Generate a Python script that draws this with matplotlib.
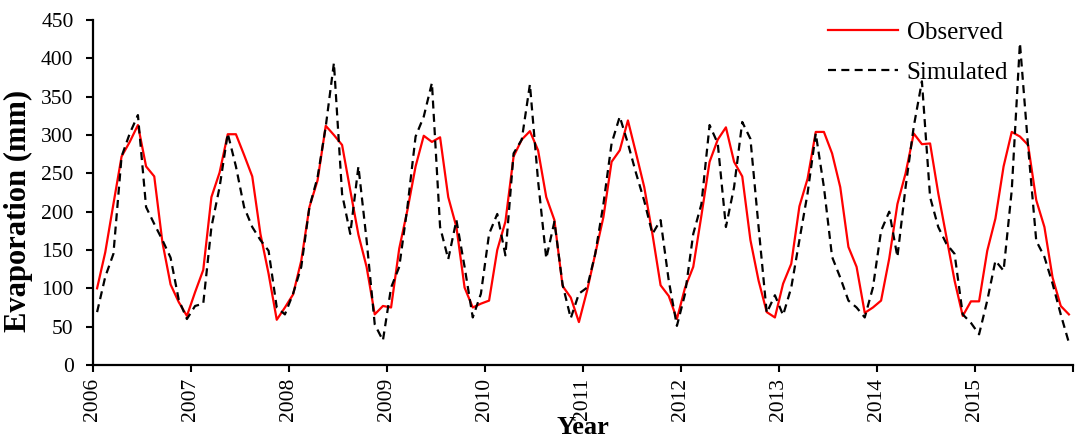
import numpy as np
import matplotlib
matplotlib.use('Agg')
import matplotlib.pyplot as plt

plt.rcParams['font.family'] = ['Liberation Serif', 'DejaVu Serif']

# monthly evaporation (mm), Jan 2006 - Dec 2015
observed = [
    100, 147, 210, 272, 291, 313, 259, 246, 160, 105, 82, 64,
    95, 124, 219, 251, 301, 301, 274, 246, 171, 119, 59, 75,
    92, 136, 206, 241, 312, 300, 287, 228, 170, 128, 66, 77,
    75, 152, 202, 259, 299, 291, 297, 219, 180, 101, 75, 80,
    84, 150, 187, 272, 294, 305, 280, 219, 189, 103, 88, 56,
    97, 145, 193, 265, 280, 319, 276, 232, 171, 104, 90, 60,
    101, 128, 195, 265, 294, 310, 265, 246, 163, 110, 69, 62,
    106, 132, 207, 243, 304, 304, 276, 232, 154, 128, 68, 75,
    84, 139, 210, 250, 302, 288, 289, 224, 167, 110, 64, 83,
    83, 149, 191, 259, 304, 298, 287, 215, 180, 114, 77, 66,
]
simulated = [
    69, 115, 145, 272, 302, 326, 206, 184, 163, 140, 85, 60,
    77, 80, 180, 232, 302, 259, 206, 180, 163, 149, 75, 66,
    93, 128, 206, 245, 311, 394, 223, 171, 259, 163, 53, 32,
    101, 128, 206, 298, 324, 368, 180, 138, 189, 128, 62, 93,
    171, 197, 143, 276, 294, 366, 240, 139, 187, 105, 61, 93,
    101, 145, 210, 289, 324, 289, 250, 214, 171, 189, 110, 51,
    93, 171, 210, 313, 289, 180, 232, 317, 295, 180, 68, 91,
    65, 101, 163, 224, 302, 232, 141, 114, 84, 75, 62, 101,
    175, 200, 141, 232, 311, 370, 219, 180, 158, 145, 66, 55,
    40, 84, 136, 123, 228, 420, 285, 162, 141, 106, 66, 29,
]
years = list(range(2006, 2017))
year_labels = [str(y) for y in years[:-1]] + ['']

t = 2006 + (np.arange(len(observed)) + 0.5) / 12

fig = plt.figure(figsize=(10.81, 4.40), dpi=100)
ax = fig.add_axes([93 / 1081, 1 - 365 / 440, 980 / 1081, 345 / 440])

ax.plot(t, observed, color='#ff0000', lw=1.6, label='Observed')
ax.plot(t, simulated, color='black', lw=1.6, linestyle=(0, (3.6, 2.4)), label='Simulated')

ax.set_xlim(2006, 2016)
ax.set_ylim(0, 450)
ax.set_yticks(range(0, 451, 50))
ax.set_xticks(years)
ax.set_xticklabels(year_labels, rotation=90)
ax.tick_params(axis='both', direction='out', length=5, width=1.5, labelsize=15.5)
ax.tick_params(axis='y', pad=9)
ax.tick_params(axis='x', pad=4)

for s in ['top', 'right']:
    ax.spines[s].set_visible(False)
for s in ['left', 'bottom']:
    ax.spines[s].set_linewidth(1.6)

ax.set_ylabel('Evaporation (mm)', fontsize=22, fontweight='bold')
ax.yaxis.set_label_coords(-0.061, 0.446)
ax.set_xlabel('Year', fontsize=19, fontweight='bold')
ax.xaxis.set_label_coords(0.5, -0.148)

ax.legend(loc='upper left', bbox_to_anchor=(0.75, 0.995), frameon=False, fontsize=18,
          handlelength=2.8, handletextpad=0.35, labelspacing=0.7,
          borderpad=0, borderaxespad=0)

fig.savefig('out.png', dpi=100)
